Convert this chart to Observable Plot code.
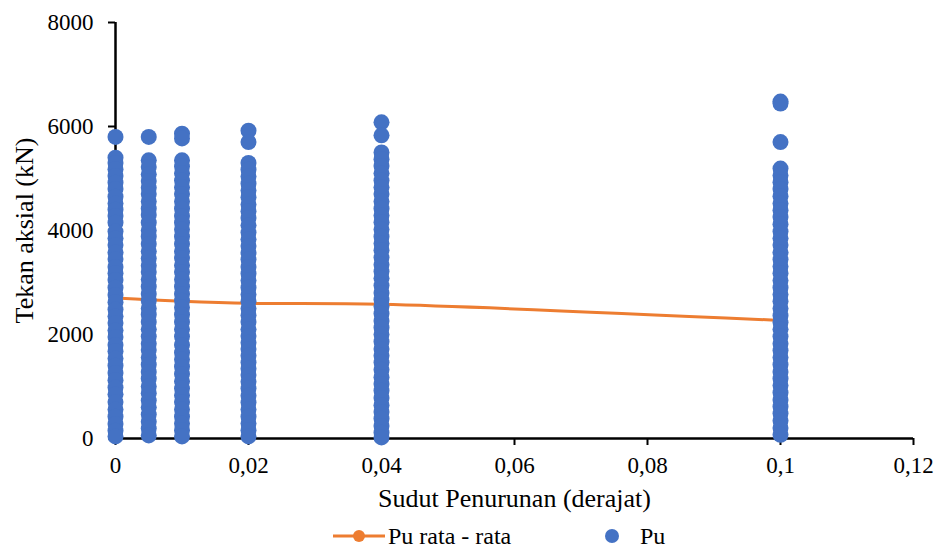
<!DOCTYPE html>
<html><head><meta charset="utf-8">
<script src="https://cdn.jsdelivr.net/npm/d3@7"></script>
<script src="https://cdn.jsdelivr.net/npm/@observablehq/plot@0.6"></script>
<style>
body{margin:0;background:#fff;font-family:"Liberation Serif",Tinos,"Times New Roman",Times,serif;}
#wrap{position:relative;width:941px;height:551px;}
#legend{position:absolute;left:0;top:519px;width:941px;height:34px;font-size:24px;color:#000;}
#legend .item{position:absolute;top:0;height:34px;display:flex;align-items:center;}
svg text{font-family:"Liberation Serif",Tinos,"Times New Roman",Times,serif;}
</style>
</head><body>
<div id="wrap"><div id="chart"></div>
<div id="legend">
  <div class="item" style="left:332px"><svg width="54" height="16"><line x1="1" y1="8" x2="53" y2="8" stroke="#ED7D31" stroke-width="3"/><circle cx="27" cy="8" r="6" fill="#ED7D31"/></svg><span style="margin-left:2px">Pu rata - rata</span></div>
  <div class="item" style="left:604px"><svg width="16" height="16"><circle cx="8" cy="8" r="7" fill="#4472C4"/></svg><span style="margin-left:20px">Pu</span></div>
</div></div>
<script>
const angles = [0, 0.005, 0.01, 0.02, 0.04, 0.1];
const pu_0000 = [5800, 5400, 5300, 5180, 5050, 4920, 4800, 4650, 4520, 4400, 4280, 4150, 3980, 3850, 3720, 3580, 3450, 3300, 3180, 3050, 2900, 2760, 2620, 2480, 2350, 2220, 2080, 1950, 1800, 1680, 1540, 1400, 1260, 1120, 980, 850, 700, 560, 420, 280, 150, 40];
const pu_0005 = [5800, 5350, 5220, 5080, 4950, 4820, 4700, 4560, 4420, 4300, 4150, 4000, 3880, 3740, 3600, 3460, 3320, 3200, 3060, 2920, 2780, 2650, 2500, 2380, 2240, 2100, 1960, 1820, 1700, 1560, 1420, 1280, 1150, 1000, 870, 730, 600, 460, 320, 190, 60];
const pu_0010 = [5860, 5770, 5350, 5230, 5100, 4960, 4830, 4700, 4560, 4420, 4280, 4150, 4020, 3880, 3740, 3600, 3470, 3330, 3200, 3060, 2920, 2780, 2650, 2520, 2380, 2240, 2100, 1960, 1800, 1650, 1520, 1380, 1240, 1100, 960, 830, 700, 560, 420, 290, 160, 40];
const pu_0020 = [5920, 5700, 5300, 5170, 5040, 4900, 4770, 4640, 4500, 4370, 4240, 4100, 3960, 3830, 3700, 3570, 3440, 3300, 3170, 3040, 2900, 2770, 2640, 2500, 2370, 2240, 2100, 1970, 1840, 1720, 1590, 1460, 1340, 1220, 1090, 960, 820, 690, 560, 420, 290, 160, 40];
const pu_0040 = [6080, 5830, 5500, 5370, 5240, 5100, 4960, 4830, 4700, 4560, 4420, 4290, 4160, 4020, 3880, 3750, 3620, 3480, 3340, 3210, 3080, 2940, 2800, 2670, 2540, 2400, 2260, 2130, 2000, 1860, 1720, 1590, 1460, 1320, 1180, 1050, 920, 780, 640, 510, 380, 240, 110, 20];
const pu_0100 = [6480, 6440, 5700, 5190, 5060, 4930, 4800, 4660, 4520, 4390, 4260, 4120, 3980, 3850, 3720, 3580, 3440, 3310, 3180, 3040, 2900, 2770, 2640, 2500, 2360, 2230, 2100, 1960, 1820, 1690, 1560, 1420, 1280, 1150, 1020, 880, 740, 610, 480, 340, 200, 70];
const avgPu = [2700, 2670, 2640, 2600, 2580, 2270];
const xTicks = [0, 0.02, 0.04, 0.06, 0.08, 0.1, 0.12];
const yTicks = [0, 2000, 4000, 6000, 8000];

const columns = [pu_0000, pu_0005, pu_0010, pu_0020, pu_0040, pu_0100];
const scatter = columns.flatMap((vals, i) => vals.map(v => ({x: angles[i], y: v})));
const avgLine = angles.map((a, i) => ({x: a, y: avgPu[i]}));
const fmt = d => String(d).replace(".", ",");

const FONT = "'Liberation Serif', Tinos, 'Times New Roman', Times, serif";
const H = 519;
const chart = Plot.plot({
  width: 941, height: H,
  marginLeft: 115, marginRight: 28, marginTop: 22, marginBottom: H - 438,
  style: {fontFamily: FONT, fontSize: "23px", color: "#000", background: "#fff"},
  x: {domain: [0, 0.12]},
  y: {domain: [0, 8000]},
  marks: [
    Plot.axisX({ticks: xTicks, tickFormat: fmt, tickSize: 7, tickPadding: 11, strokeWidth: 2, label: null, fontSize: 23}),
    Plot.axisX({ticks: [], label: "Sudut Penurunan (derajat)", labelAnchor: "center", labelArrow: "none", labelOffset: 68, fontSize: 26}),
    Plot.axisY({ticks: yTicks, tickFormat: d => String(d), tickSize: 7, tickPadding: 15, strokeWidth: 2, label: null, fontSize: 23}),
    Plot.axisY({ticks: [], label: "Tekan aksial (kN)", labelAnchor: "center", labelArrow: "none", labelOffset: 101, fontSize: 26}),
    Plot.ruleY([0], {stroke: "#000", strokeWidth: 2.5}),
    Plot.ruleX([0], {y1: 0, y2: 8000, stroke: "#000", strokeWidth: 2.5}),
    Plot.line(avgLine, {x: "x", y: "y", stroke: "#ED7D31", strokeWidth: 3, curve: "catmull-rom"}),
    Plot.dot(scatter, {x: "x", y: "y", r: 8, fill: "#4472C4", stroke: "none"})
  ]
});
document.getElementById("chart").appendChild(chart);
</script>
</body></html>
